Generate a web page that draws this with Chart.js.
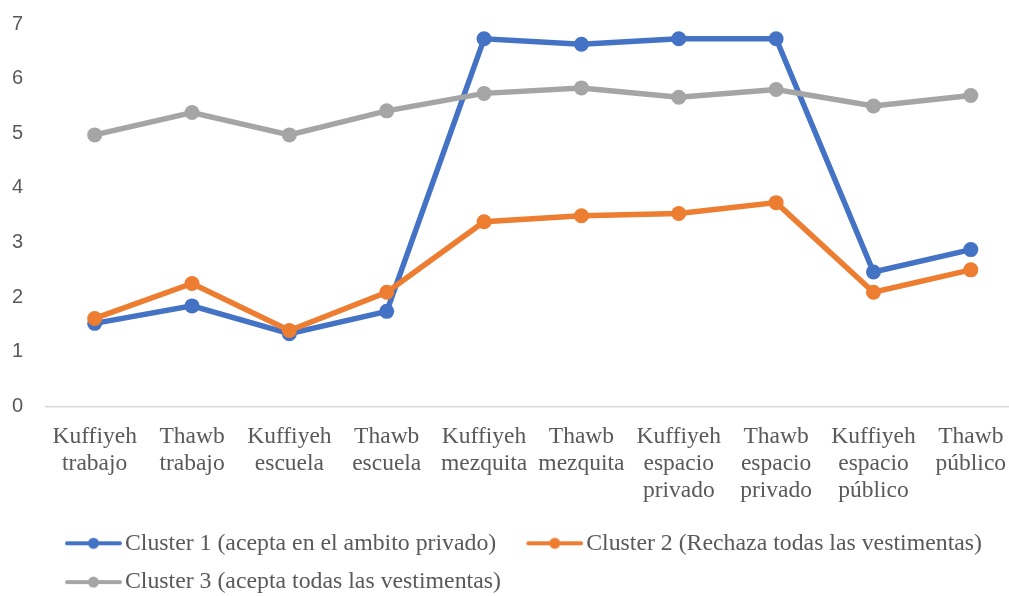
<!DOCTYPE html>
<html>
<head>
<meta charset="utf-8">
<script src="https://cdn.jsdelivr.net/npm/chart.js@4/dist/chart.umd.min.js"></script>
<style>
  html, body { margin: 0; padding: 0; background: #fff; overflow: hidden; }
  #wrap { position: absolute; left: 0; top: 0; width: 1027px; height: 604px; }
</style>
</head>
<body>
<div id="wrap"><canvas id="chart" width="1027" height="604"></canvas></div>
<script>
const categories = [
  ["Kuffiyeh", "trabajo"], ["Thawb", "trabajo"],
  ["Kuffiyeh", "escuela"], ["Thawb", "escuela"],
  ["Kuffiyeh", "mezquita"], ["Thawb", "mezquita"],
  ["Kuffiyeh", "espacio", "privado"], ["Thawb", "espacio", "privado"],
  ["Kuffiyeh", "espacio", "público"], ["Thawb", "público"]
];
const cluster1 = [1.52, 1.84, 1.33, 1.74, 6.73, 6.63, 6.73, 6.73, 2.46, 2.87];
const cluster2 = [1.61, 2.25, 1.39, 2.09, 3.38, 3.49, 3.53, 3.73, 2.09, 2.50];
const cluster3 = [4.97, 5.38, 4.97, 5.41, 5.73, 5.83, 5.66, 5.80, 5.50, 5.69];
const seriesNames = [
  "Cluster 1 (acepta en el ambito privado)",
  "Cluster 2 (Rechaza todas las vestimentas)",
  "Cluster 3 (acepta todas las vestimentas)"
];
const seriesColors = ["#4472C4", "#ED7D31", "#A5A5A5"];

const TEXT = "#595959";
const SERIF = "'Liberation Serif', 'Times New Roman', serif";

// legend marker: line with a dot in the middle
function legendMarker(color) {
  const c = document.createElement("canvas");
  c.width = 81; c.height = 14;
  const g = c.getContext("2d");
  g.strokeStyle = color; g.lineWidth = 4; g.lineCap = "round";
  g.beginPath(); g.moveTo(26, 7); g.lineTo(79, 7); g.stroke();
  g.fillStyle = color;
  g.beginPath(); g.arc(52.5, 7, 5.5, 0, Math.PI * 2); g.fill();
  return c;
}

const allSeries = [cluster1, cluster2, cluster3];
const datasets = allSeries.map((data, i) => ({
  label: seriesNames[i],
  data,
  borderColor: seriesColors[i],
  backgroundColor: seriesColors[i],
  borderWidth: 5.5,
  pointRadius: 7.5,
  pointBorderWidth: 0,
  pointHoverRadius: 7.5,
  tension: 0,
  order: 3 - i
}));

// move the legend in a bit from the left edge, like the original
const legendShift = {
  id: "legendShift",
  afterLayout(chart) { chart.legend.left = 35; }
};

new Chart(document.getElementById("chart"), {
  type: "line",
  data: { labels: categories, datasets },
  plugins: [legendShift],
  options: {
    responsive: false,
    animation: false,
    layout: { padding: { left: 0, top: 24, right: 0, bottom: 0 } },
    plugins: {
      tooltip: { enabled: false },
      legend: {
        position: "bottom",
        align: "start",
        labels: {
          usePointStyle: true,
          pointStyleWidth: 63,
          padding: 15,
          color: TEXT,
          font: { family: SERIF, size: 23.8 },
          generateLabels: chart => chart.data.datasets.map((ds, i) => ({
            text: ds.label,
            pointStyle: legendMarker(seriesColors[i]),
            fontColor: TEXT,
            hidden: false,
            datasetIndex: i
          }))
        }
      }
    },
    scales: {
      x: {
        offset: true,
        grid: { display: false, drawTicks: false },
        border: { display: true, color: "#D9D9D9", width: 1.5 },
        ticks: {
          color: TEXT,
          font: { family: SERIF, size: 23.5, lineHeight: 1.15 },
          padding: 17,
          maxRotation: 0,
          autoSkip: false
        },
        afterFit: s => { s.height = 110; s.paddingLeft = 0; s.paddingRight = 0; }
      },
      y: {
        min: 0, max: 7,
        grid: { display: false, drawTicks: false },
        border: { display: false },
        ticks: {
          stepSize: 1,
          color: TEXT,
          font: { family: "'Liberation Sans', Arial, sans-serif", size: 20 },
          padding: 23
        },
        afterFit: s => { s.width = 46; s.paddingTop = 0; s.paddingBottom = 0; }
      }
    }
  }
});
</script>
</body>
</html>
